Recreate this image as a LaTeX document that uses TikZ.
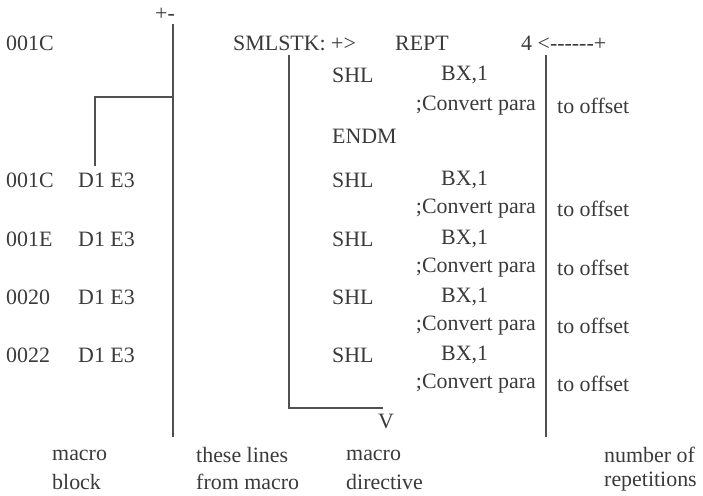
\documentclass[tikz,border=0pt]{standalone}
\usepackage{fontspec}
\setmainfont{Liberation Serif}
\begin{document}
\begin{tikzpicture}[x=1bp,y=-1bp,
  txt/.style={anchor=west,inner sep=0pt,text=ink,font=\fontsize{22}{24}\selectfont},
  txtr/.style={txt,anchor=east},
  rule/.style={draw=rulegray,line width=1.4bp}]
\definecolor{ink}{HTML}{3A3A3A}
\definecolor{rulegray}{HTML}{505050}
\useasboundingbox (0,0) rectangle (703,496);

% header line
\node[txt] (pm) at (155,14) {+-};
\node[txt] (a0) at (6,43) {001C};
\node[txt] (lbl) at (233,43) {SMLSTK: +>};
\node[txt] (rept) at (395,43) {REPT};
\node[txt] (cnt) at (521,43) {4 <-{}-{}-{}-{}-{}-+};

% macro body
\node[txt] (shl0) at (332,75) {SHL};
\node[txt] (bx0) at (441,75) {BX,1};
\node[txtr] (cv0) at (536,106) {;Convert para};
\node[txt] (of0) at (557,106) {to offset};
\node[txt] (endm) at (332,136) {ENDM};

% expanded lines
\foreach \i/\addr/\y in {1/001C/180,2/001E/239,3/0020/297,4/0022/355}{
  \node[txt] (ad\i) at (6,\y) {\addr};
  \node[txt] (cd\i) at (78,\y) {D1 E3};
  \node[txt] (shl\i) at (332,\y) {SHL};
  \node[txt] (bx\i) at (441,\y) {BX,1};
  \node[txtr] (cv\i) at (536,\y+29) {;Convert para};
  \node[txt] (of\i) at (557,\y+29) {to offset};
}

\node[txt] (vv) at (378,421) {V};

% captions
\node[txt] (c1a) at (52,455) {macro};
\node[txt] (c1b) at (52,482) {block};
\node[txt] (c2a) at (196,455) {these lines};
\node[txt] (c2b) at (196,482) {from macro};
\node[txt] (c3a) at (346,455) {macro};
\node[txt] (c3b) at (346,482) {directive};
\node[txt] (c4a) at (604,455) {number of};
\node[txt] (c4b) at (604,482) {repetitions};

% bracket rules
\coordinate (b1top) at (173,24);
\coordinate (b1bot) at (173,437);
\coordinate (b1mid) at (173,97);
\coordinate (b1end) at (95,166);
\coordinate (b2top) at (289,55);
\coordinate (b2end) at (383,408);
\coordinate (b3top) at (546,55);
\coordinate (b3bot) at (546,437);

\draw[rule] (b1top) -- (b1bot);
\draw[rule] (b1mid) -| (b1end);
\draw[rule] (b2top) |- (b2end);
\draw[rule] (b3top) -- (b3bot);
\end{tikzpicture}
\end{document}
